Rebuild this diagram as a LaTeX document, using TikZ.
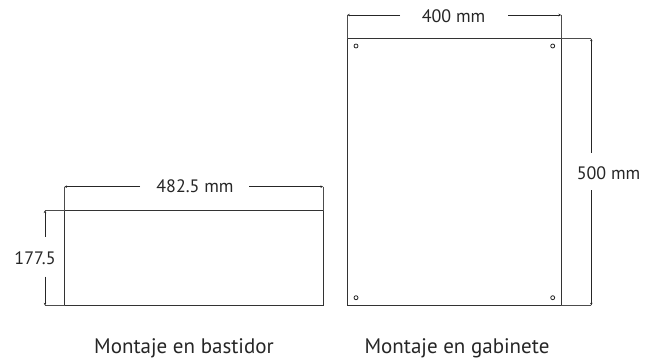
\documentclass[tikz,border=0pt]{standalone}
\usepackage{fontspec}
\setmainfont{PT Sans}
\usetikzlibrary{arrows.meta}
\tikzset{
	panel/.style={draw=black!80, line width=0.9pt},
	dimline/.style={draw=black!85, line width=0.7pt, -{Stealth[length=2.5pt,width=2.5pt]}},
	guide/.style={draw=black!70, line width=0.8pt},
	hole/.style={circle, draw=black!85, line width=0.8pt, fill=white, inner sep=0pt, minimum size=4pt},
	dimlabel/.style={text=black!85, font=\fontsize{18}{21}\selectfont, inner sep=0pt, anchor=base},
	caption/.style={text=black!85, font=\fontsize{21}{24}\selectfont, inner sep=0pt, anchor=base}
}
\begin{document}
\begin{tikzpicture}[x=1pt,y=-1pt]
	\useasboundingbox (0,0) rectangle (652,358);
	% rack
	\coordinate (rackTL) at (64.5,210.5);
	\coordinate (rackTR) at (323,210.5);
	\coordinate (rackBR) at (323,305.3);
	\coordinate (rackBL) at (64.5,305.3);
	\draw[panel] (rackTL) -- (rackTR) -- (rackBR) -- (rackBL) -- cycle;
	\coordinate (rackW1) at (64.5,186.7);
	\coordinate (rackW2) at (323,186.7);
	\coordinate (rackH1) at (45,210.5);
	\coordinate (rackH2) at (45,305.3);
	\draw[guide] (rackW1) -- (rackTL);
	\draw[guide] (rackW2) -- (rackTR);
	\draw[guide] (rackH1) -- (rackTL);
	\draw[guide] (rackH2) -- (rackBL);
	\node[dimlabel] (rackW) at (195,192.3) {482.5 mm};
	\node[dimlabel] (rackH) at (35,264.3) {177.5};
	\coordinate (rackWa) at (140,186.7);
	\coordinate (rackWb) at (249,186.7);
	\coordinate (rackHa) at (45,236.7);
	\coordinate (rackHb) at (45,276.7);
	\draw[dimline] (rackWa) -- (rackW1);
	\draw[dimline] (rackWb) -- (rackW2);
	\draw[dimline] (rackHa) -- (rackH1);
	\draw[dimline] (rackHb) -- (rackH2);
	% cabinet
	\coordinate (cabTL) at (347.3,38.7);
	\coordinate (cabTR) at (561,38.7);
	\coordinate (cabBR) at (561,305.3);
	\coordinate (cabBL) at (347.3,305.3);
	\draw[panel] (cabTL) -- (cabTR) -- (cabBR) -- (cabBL) -- cycle;
	\coordinate (cabW1) at (347.3,15);
	\coordinate (cabW2) at (561,15);
	\coordinate (cabH1) at (591.3,38.7);
	\coordinate (cabH2) at (591.3,305.3);
	\draw[guide] (cabW1) -- (cabTL);
	\draw[guide] (cabW2) -- (cabTR);
	\draw[guide] (cabH1) -- (cabTR);
	\draw[guide] (cabH2) -- (cabBR);
	\node[dimlabel] (cabW) at (453.5,22.7) {400 mm};
	\node[dimlabel] (cabH) at (608.5,179.3) {500 mm};
	\coordinate (cabWa) at (400,15);
	\coordinate (cabWb) at (508,15);
	\coordinate (cabHa) at (591.3,153);
	\coordinate (cabHb) at (591.3,190);
	\draw[dimline] (cabWa) -- (cabW1);
	\draw[dimline] (cabWb) -- (cabW2);
	\draw[dimline] (cabHa) -- (cabH1);
	\draw[dimline] (cabHb) -- (cabH2);
	\node[hole] (holeA) at (356,46) {};
	\node[hole] (holeB) at (552.7,46) {};
	\node[hole] (holeC) at (356,297.7) {};
	\node[hole] (holeD) at (552.7,297.7) {};
	% captions
	\node[caption] (capRack) at (184,353) {Montaje en bastidor};
	\node[caption] (capCab) at (457,353) {Montaje en gabinete};
\end{tikzpicture}
\end{document}
